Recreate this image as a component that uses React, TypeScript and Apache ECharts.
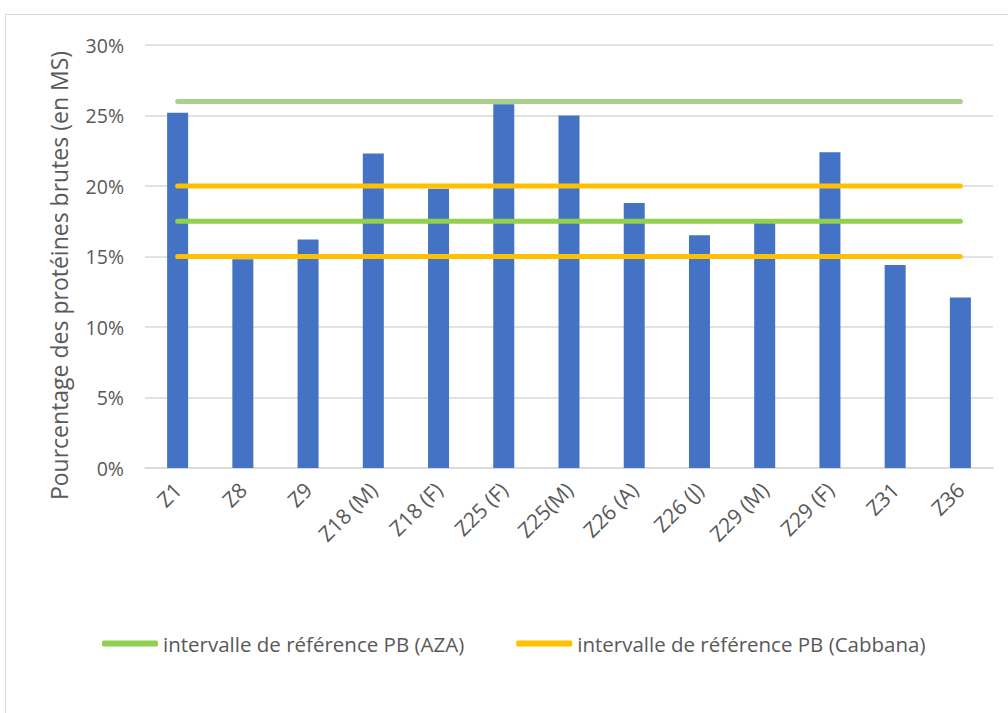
import React, { useEffect, useRef } from "react";
import * as echarts from "echarts";

const categories = ["Z1", "Z8", "Z9", "Z18 (M)", "Z18 (F)", "Z25 (F)", "Z25(M)", "Z26 (A)", "Z26 (J)", "Z29 (M)", "Z29 (F)", "Z31", "Z36"];
const proteinValues = [25.2, 14.8, 16.2, 22.3, 19.8, 25.8, 25.0, 18.8, 16.5, 17.4, 22.4, 14.4, 12.1];
const azaHigh = 26;
const azaLow = 17.5;
const cabbanaHigh = 20;
const cabbanaLow = 15;
const yTicks = [0, 5, 10, 15, 20, 25, 30];

const AZA = "intervalle de référence PB (AZA)";
const CAB = "intervalle de référence PB (Cabbana)";

const FONT = "Open Sans";

export default function App() {
  const ref = useRef<HTMLDivElement>(null);
  useEffect(() => {
    if (!ref.current) return;
    const chart = echarts.init(ref.current, null, { renderer: "svg" });
    const flat = (v: number) => categories.map(() => v);
    const lineSeries = (name: string, v: number, color: string) => ({
      name,
      type: "line",
      data: flat(v),
      symbol: "none",
      lineStyle: { color, width: 5, cap: "round" },
      itemStyle: { color },
      z: 3,
    });
    chart.setOption({
      animation: false,
      textStyle: { fontFamily: FONT },
      graphic: [
        {
          type: "rect",
          shape: { x: 5.5, y: 14.5, width: 1010, height: 710 },
          style: { fill: "none", stroke: "#d9d9d9", lineWidth: 1 },
          silent: true,
        },
      ],
      grid: { left: 145, right: 15, top: 45, bottom: 245 },
      legend: {
        left: 97,
        top: 628,
        itemWidth: 56,
        itemHeight: 6,
        itemGap: 52,
        icon: "roundRect",
        data: [AZA, CAB],
        textStyle: { color: "#595959", fontSize: 20.5, fontFamily: FONT },
      },
      xAxis: {
        type: "category",
        data: categories,
        boundaryGap: true,
        axisLine: { lineStyle: { color: "#d9d9d9", width: 1.5 } },
        axisTick: { show: false },
        axisLabel: {
          rotate: 45,
          color: "#595959",
          fontSize: 21,
          fontFamily: FONT,
          margin: 18,
          interval: 0,
          padding: [0, 0, 0, 0],
        },
      },
      yAxis: {
        type: "value",
        min: yTicks[0],
        max: yTicks[yTicks.length - 1],
        interval: 5,
        name: "Pourcentage des protéines brutes (en MS)",
        nameLocation: "middle",
        nameGap: 75,
        nameRotate: 90,
        nameTextStyle: { color: "#595959", fontSize: 23, fontFamily: FONT, padding: [0, 38, 0, 0] },
        axisLine: { show: false },
        axisTick: { show: false },
        splitLine: { lineStyle: { color: "#d9d9d9", width: 1.5 } },
        axisLabel: {
          formatter: "{value}%",
          color: "#595959",
          fontSize: 19.5,
          fontFamily: FONT,
          margin: 21,
        },
      },
      series: [
        {
          name: "Pourcentage",
          type: "bar",
          data: proteinValues,
          barWidth: 21,
          itemStyle: { color: "#4472C4" },
          z: 2,
        },
        lineSeries(AZA, azaLow, "#92D050"),
        lineSeries(AZA, azaHigh, "#A9D18E"),
        lineSeries(CAB, cabbanaHigh, "#FFC000"),
        lineSeries(CAB, cabbanaLow, "#FFC000"),
      ],
    });
    return () => chart.dispose();
  }, []);
  return <div ref={ref} style={{ width: 1008, height: 713, position: "absolute", left: 0, top: 0 }} />;
}
